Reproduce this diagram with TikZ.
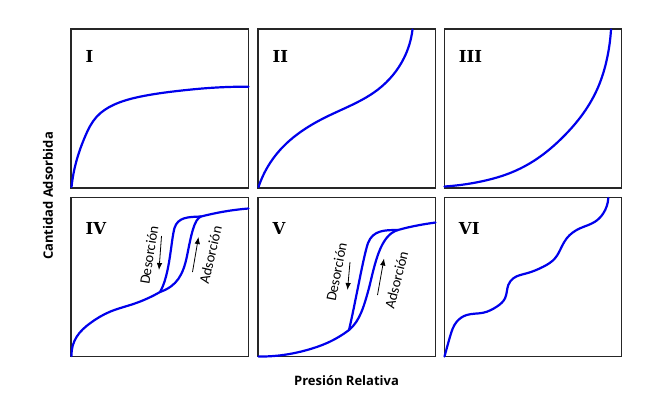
\documentclass[tikz,border=0pt]{standalone}
\usepackage{fontspec}
\usepackage{tikz}
\usetikzlibrary{
	hobby,
	arrows.meta,
	calc
}
\newfontfamily\axisfont{Open Sans}
\newfontfamily\notefont{Carlito}
\newfontfamily\numfont{DejaVu Serif}
\tikzset{
	panel/.style={
		draw=black!85,
		line width=1.4pt,
		minimum width=177.5pt,
		minimum height=159pt,
		inner sep=0pt,
		outer sep=0pt
	},
	numeral/.style={
		anchor=north west,
		inner sep=0pt,
		font=\numfont\bfseries\fontsize{16.5}{16.5}\selectfont
	},
	isotherm/.style={
		blue!92!black,
		line width=2.2pt,
		line cap=round
	},
	flow/.style={
		black,
		line width=0.8pt,
		-{Latex[length=7pt,width=5.5pt]}
	},
	note/.style={
		inner sep=0pt,
		font=\notefont\fontsize{14.5}{14.5}\selectfont
	},
	axislabel/.style={
		inner sep=0pt,
		font=\axisfont\bfseries\fontsize{13}{13}\selectfont
	}
}

\begin{document}
\begin{tikzpicture}[ %%%%%%%% ISOTERMAS
		x=1pt,
		y=-1pt,
		use Hobby shortcut
		]
		\useasboundingbox (0,0) rectangle (668,400);
		\foreach \cx/\cy/\n/\dy in {159.75/108.5/I/21.5, 346.75/108.5/II/21.5, 533/108.5/III/21.5,
			159.75/277.1/IV/24.5, 346.75/277.1/V/24.5, 533/277.1/VI/24.5} {
			\node[panel] (frame\n) at (\cx,\cy) {};
			\node[numeral] (num\n) at ([shift={(14.5,\dy)}]frame\n.north west) {\n};
		}
		% I
		\draw[isotherm] (71.5,187) .. (76.7,160) .. (85,136.7) .. (96.7,116.7) .. (113.3,105)
			.. (140,96.7) .. (180,90.7) .. (213.3,87.7) .. (248.5,86.7);
		% II
		\draw[isotherm] (258.5,187) .. (280,150) .. (326.7,116.7) .. (378,89.5)
			.. (404,58) .. (412.5,29.5);
		% III
		\draw[isotherm] (444.5,186.5) .. (480,181.7) .. (513.3,171.7) .. (540,156.7) .. (563.3,136.7)
			.. (583.3,113.3) .. (598.3,86.7) .. (606.7,60) .. (611,29.5);
		% IV
		\draw[isotherm] (71.5,356) .. (76.7,336.7) .. (90,323.3) .. (110,311.7) .. (133.3,304)
			.. (160,292);
		\draw[isotherm] (160,292) .. controls (177,286) and (183,275) .. (187,256)
			.. controls (191,236) and (194,219) .. (201,216.5)
			.. controls (215,213) and (230,210) .. (248.5,208.5);
		\draw[isotherm] (201,216.5) .. controls (188,217) and (178,217) .. (174.5,228)
			.. controls (171,240) and (170,275) .. (160,292);
		\coordinate (desIVa) at (161.5,236);
		\coordinate (desIVb) at (159,270);
		\coordinate (adsIVa) at (192.5,272);
		\coordinate (adsIVb) at (198.5,237);
		\draw[flow] (desIVa) -- (desIVb);
		\draw[flow] (adsIVa) -- (adsIVb);
		\node[note, rotate=81] (txtdesIV) at (149,255) {Desorción};
		\node[note, rotate=77] (txtadsIV) at (210.5,255) {Adsorción};
		% V
		\draw[isotherm] (258.5,356.5) .. (283,355) .. (307,350) .. (327,343) .. (349,330);
		\draw[isotherm] (349,330) .. controls (360,321) and (364,306) .. (369,288)
			.. controls (375,264) and (380,235) .. (398,230)
			.. controls (412,226) and (425,224) .. (435.5,222.5);
		\draw[isotherm] (398,230) .. controls (385,230) and (373,230) .. (368,243)
			.. controls (363,258) and (356,300) .. (349,330);
		\coordinate (desVa) at (350,262);
		\coordinate (desVb) at (347.5,290);
		\coordinate (adsVa) at (377.5,295);
		\coordinate (adsVb) at (384,258.5);
		\draw[flow] (desVa) -- (desVb);
		\draw[flow] (adsVa) -- (adsVb);
		\node[note, rotate=79] (txtdesV) at (336.5,272) {Desorción};
		\node[note, rotate=76] (txtadsV) at (396.5,280) {Adsorción};
		% VI
		\draw[isotherm] (444.5,356.5) .. (450,336.7) .. (456.7,321.7) .. (466.7,315) .. (483.3,312.7)
			.. (496.7,306.7) .. (505,298.3) .. (508.3,285) .. (513.3,278.3) .. (526.7,273.3)
			.. (543.3,266.7) .. (555,258.3) .. (561.7,246.7) .. (566.7,238.3) .. (580,228.3)
			.. (595,221.7) .. (603.3,213.3) .. (608.3,198);
		% ejes
		\node[axislabel, rotate=90] (ylabel) at (48,196) {Cantidad Adsorbida};
		\node[axislabel] (xlabel) at (346.5,381) {Presión Relativa};
	\end{tikzpicture}
\end{document}
